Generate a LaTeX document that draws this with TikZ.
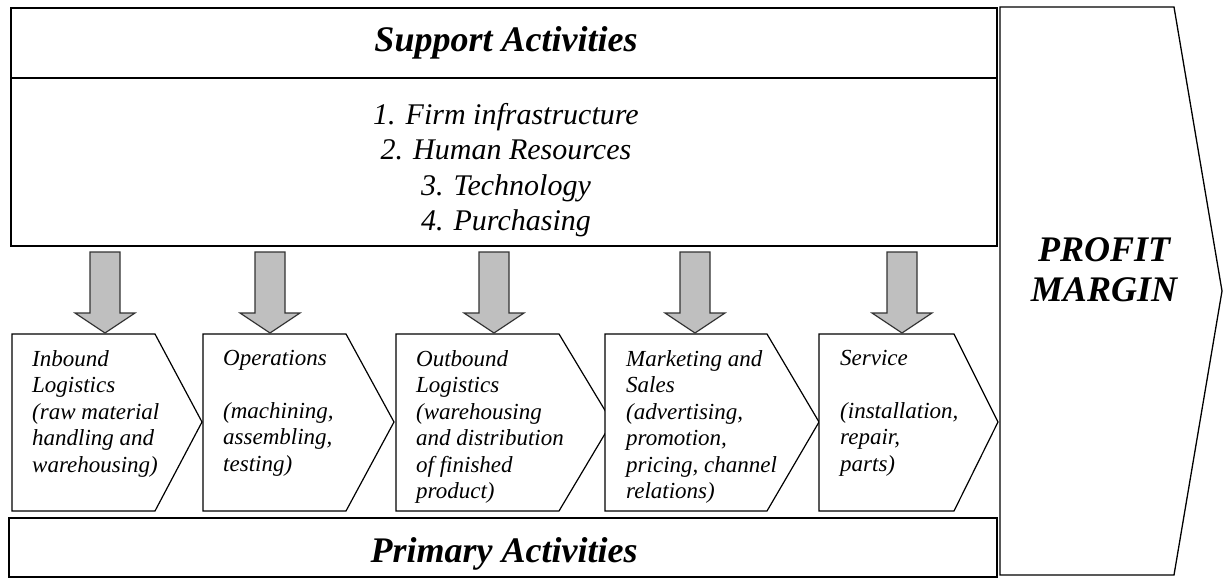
\documentclass[tikz,border=0pt]{standalone}
\usepackage{fontspec}
\setmainfont{Liberation Serif}
\usetikzlibrary{calc}

\tikzset{
  box/.style={draw,line width=1.3pt},
  chev/.style={draw,line width=1.2pt,fill=white},
  blockarrow/.style={draw=black!80,fill=black!25,line width=1.2pt},
  headtxt/.style={font=\fontsize{36}{40}\selectfont\bfseries\itshape,inner sep=0pt},
  listtxt/.style={font=\fontsize{30}{35.3}\selectfont\itshape,align=center,inner sep=0pt},
  chevtxt/.style={anchor=north west,align=left,inner sep=0pt,font=\fontsize{23}{26.5}\selectfont\itshape},
}

\begin{document}
\begin{tikzpicture}[x=1pt,y=-1pt]%
\useasboundingbox (0,0) rectangle (1226,578);%
% support activities
\draw[box] (11,8) rectangle (997,246);%
\draw[box] (11,78) -- (997,78);%
\node[headtxt,anchor=base] (support) at (506,52) {Support Activities};%
\node[listtxt] (supportlist) at (506,170) {1. Firm infrastructure\\2. Human Resources\\3. Technology\\4. Purchasing};%
% primary activities
\draw[box] (9,518) rectangle (997,577);%
\node[headtxt,anchor=base] (primary) at (504,562) {Primary Activities};%
% profit margin
\draw[box] (1000,7) -- (1174,7) -- (1222,291) -- (1174,575) -- (1000,575) -- cycle;%
\node[headtxt,align=center] (margin) at (1104,270) {PROFIT\\MARGIN};%
% chevrons of the primary chain
\foreach \l/\c/\t in {12/155/202,203/346/394,396/559/612,605/767/819,819/954/998}{%
  \draw[chev] (\l,334) -- (\c,334) -- (\t,422) -- (\c,511) -- (\l,511) -- cycle;%
}
% arrows from support to primary
\foreach \x in {105,270,494,695,902}{%
  \draw[blockarrow] (\x-15,252) -- (\x+15,252) -- (\x+15,313) -- (\x+30,313) -- (\x,333) -- (\x-30,313) -- (\x-15,313) -- cycle;%
}
\node[chevtxt] (inbound) at (32,350) {Inbound\\Logistics\\(raw material\\handling and\\warehousing)};%
\node[chevtxt] (operations) at (223,350) {Operations\\\mbox{}\\(machining,\\assembling,\\testing)};%
\node[chevtxt] (outbound) at (416,350) {Outbound\\Logistics\\(warehousing\\and distribution\\of finished\\product)};%
\node[chevtxt] (marketing) at (626,350) {Marketing and\\Sales\\(advertising,\\promotion,\\pricing, channel\\relations)};%
\node[chevtxt] (service) at (840,350) {Service\\\mbox{}\\(installation,\\repair,\\parts)};%
\end{tikzpicture}
\end{document}
